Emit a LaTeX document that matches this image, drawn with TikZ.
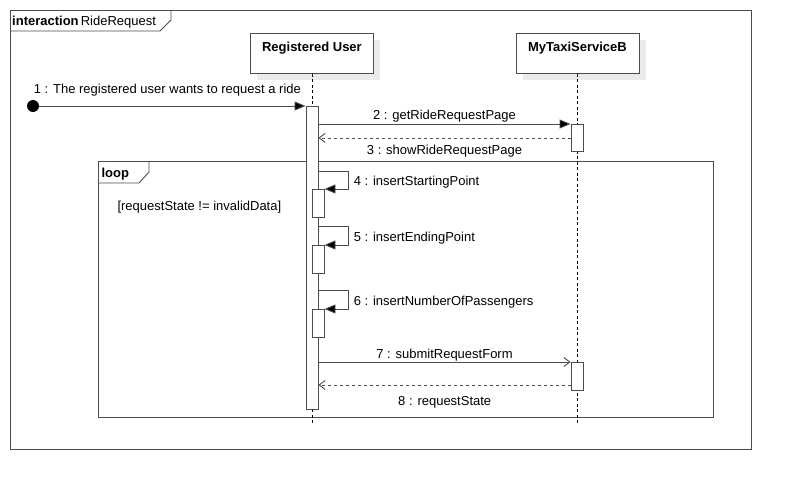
\documentclass[tikz,border=0pt]{standalone}
\usepackage{fontspec}
\setmainfont{Liberation Sans}
\usetikzlibrary{arrows.meta,positioning,calc}
\newcommand{\umlfont}{\fontsize{13}{15.5}\selectfont}
\tikzset{
  umlline/.style={draw=black!70, line width=0.9pt},
  lifehead/.style={umlline, fill=white, minimum width=123pt, minimum height=40pt, anchor=north west, inner sep=0pt},
  headshadow/.style={fill=black!8},
  lifeline/.style={black, line width=0.7pt, dash pattern=on 3pt off 2.5pt},
  actbar/.style={umlline, fill=white, minimum width=12pt, anchor=north, inner sep=0pt},
  callmsg/.style={umlline, -{Triangle[length=11pt,width=9pt,fill=black]}},
  asyncmsg/.style={umlline, -{Straight Barb[length=6pt,width=9pt]}},
  replymsg/.style={umlline, dash pattern=on 3pt off 3pt, -{Straight Barb[length=6pt,width=9pt]}},
  selflbl/.style={right=2pt, yshift=-2.5pt},
}

\begin{document}
\begin{tikzpicture}[x=1pt, y=-1pt, font=\umlfont]
			%%%%% START %%%%%
			\useasboundingbox (0,0) rectangle (792,490);
			
			% interaction frame
			\draw[umlline] (10,10) rectangle (751,449);
			\draw[umlline] (10,31) -- (160,31) -- (171,20) -- (171,10);
			\node[anchor=west, inner sep=0pt] (framelbl) at (12,22) {\textbf{interaction}\,RideRequest};
			
			% lifeline heads
			\fill[headshadow] (257,40) rectangle (380,80);
			\node[lifehead] (user) at (250,33) {};
			\node[below=6pt of user.north, font=\umlfont\bfseries] (userlbl) {Registered User};
			
			\fill[headshadow] (522.5,40) rectangle (645.5,80);
			\node[lifehead] (taxi) at (515.5,33) {};
			\node[below=6pt of taxi.north, font=\umlfont\bfseries] (taxilbl) {MyTaxiServiceB};
			
			% loop fragment
			\draw[umlline] (98,161) rectangle (713,417);
			\draw[umlline] (98,183) -- (139,183) -- (149,172) -- (149,161);
			\node[anchor=west, font=\umlfont\bfseries] (looplbl) at (98,174) {loop};
			\node[anchor=west] (guard) at (114,207) {[requestState != invalidData]};
			
			% lifelines
			\coordinate (userend) at (user.south |- 0,425);
			\coordinate (taxiend) at (taxi.south |- 0,425);
			\draw[lifeline] (user.south) -- (userend);
			\draw[lifeline] (taxi.south) -- (taxiend);
			
			% activations
			\node[actbar, minimum height=303pt] (ua) at (312,106) {};
			\node[actbar, minimum height=27pt] (ta1) at (577,124) {};
			\node[actbar, minimum height=28pt] (ta2) at (577,362) {};
			\node[actbar, minimum height=28pt] (ub1) at (318,189) {};
			\node[actbar, minimum height=28pt] (ub2) at (318,245) {};
			\node[actbar, minimum height=28pt] (ub3) at (318,309) {};
			
			% messages
			\node[circle, fill=black, minimum size=12pt, inner sep=0pt] (start) at (33,106) {};
			\draw[callmsg] (start) -- (ua.north west) node[midway, above=6pt, xshift=-5pt] {1 : The registered user wants to request a ride};
			
			\draw[callmsg] (ua.east |- ta1.north) -- (ta1.north west) node[midway, above=-2pt] {2 : getRideRequestPage};
			\draw[replymsg] (ta1.west) -- (ta1.west -| ua.east) node[midway, below=3.5pt] {3 : showRideRequestPage};
			
			\coordinate (s4) at (318,171);
			\coordinate (s5) at (318,226);
			\coordinate (s6) at (318,290);
			\draw[callmsg] (s4) -- ++(30,0) |- (ub1.north east) node[pos=0.25, selflbl] {4 : insertStartingPoint};
			\draw[callmsg] (s5) -- ++(30,0) |- (ub2.north east) node[pos=0.25, selflbl] {5 : insertEndingPoint};
			\draw[callmsg] (s6) -- ++(30,0) |- (ub3.north east) node[pos=0.25, selflbl] {6 : insertNumberOfPassengers};
			
			\draw[asyncmsg] (ua.east |- ta2.north) -- (ta2.north west) node[midway, above=-2.5pt] {7 : submitRequestForm};
			\coordinate (r8) at (571,385);
			\draw[replymsg] (r8) -- (r8 -| ua.east) node[midway, below=8pt] {8 : requestState};
			
			%%%%% END %%%%%
\end{tikzpicture}
\end{document}
